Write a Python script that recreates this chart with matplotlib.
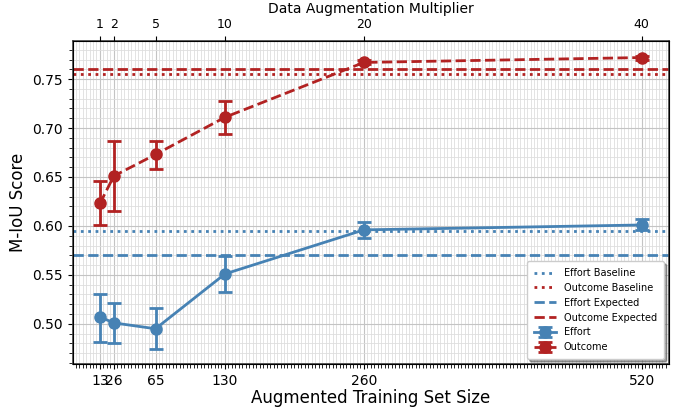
import numpy as np
import matplotlib
matplotlib.use("Agg")
import matplotlib.pyplot as plt
from matplotlib.ticker import AutoMinorLocator

# training set sizes and multipliers
sizes = [13, 26, 65, 130, 260, 520]
multipliers = [1, 2, 5, 10, 20, 40]

# effort scores
effort_mean = [0.507, 0.501, 0.495, 0.551, 0.596, 0.601]
effort_lo = [0.481, 0.480, 0.474, 0.533, 0.588, 0.596]
effort_hi = [0.531, 0.521, 0.516, 0.569, 0.604, 0.607]

# outcome scores
outcome_mean = [0.623, 0.651, 0.673, 0.711, 0.767, 0.772]
outcome_lo = [0.601, 0.615, 0.658, 0.694, 0.765, 0.770]
outcome_hi = [0.646, 0.687, 0.687, 0.728, 0.769, 0.774]

effort_baseline = 0.595
outcome_baseline = 0.755
effort_expected = 0.570
outcome_expected = 0.760

c_eff = "#4682B4"
c_out = "#B22222"

fig, ax = plt.subplots(figsize=(6.81, 4.09), dpi=100)
fig.subplots_adjust(left=0.107, right=0.982, top=0.9, bottom=0.11)

ax.axhline(effort_baseline, color=c_eff, ls=":", lw=2, label="Effort Baseline")
ax.axhline(outcome_baseline, color=c_out, ls=":", lw=2, label="Outcome Baseline")
ax.axhline(effort_expected, color=c_eff, ls="--", lw=2, label="Effort Expected")
ax.axhline(outcome_expected, color=c_out, ls="--", lw=2, label="Outcome Expected")

x = np.array(sizes)
em = np.array(effort_mean)
om = np.array(outcome_mean)
e_err = [em - np.array(effort_lo), np.array(effort_hi) - em]
o_err = [om - np.array(outcome_lo), np.array(outcome_hi) - om]

ax.errorbar(x, em, yerr=e_err, color=c_eff, marker="o", ms=8, lw=2, ls="-",
            capsize=5, capthick=2, elinewidth=2, label="Effort")
ax.errorbar(x, om, yerr=o_err, color=c_out, marker="o", ms=8, lw=2, ls="--",
            capsize=5, capthick=2, elinewidth=2, label="Outcome")

ax.set_xticks(sizes)
ax.set_xticklabels([str(s) for s in sizes], fontsize=10)
ax.xaxis.set_minor_locator(AutoMinorLocator())
ax.yaxis.set_minor_locator(AutoMinorLocator())
ax.tick_params(axis="y", labelsize=10)
ax.tick_params(which="minor", length=3)
ax.grid(which="major", color="#c4c4c4", lw=0.8)
ax.grid(which="minor", color="#dedede", lw=0.6)
ax.set_axisbelow(True)
for s in ax.spines.values():
    s.set_color("#444444")
    s.set_linewidth(1.2)

ax.set_xlabel("Augmented Training Set Size", fontsize=12, labelpad=1)
ax.set_ylabel("M-IoU Score", fontsize=12)

top = ax.twiny()
top.set_xlim(ax.get_xlim())
top.set_xticks(sizes)
top.set_xticklabels([str(m) for m in multipliers], fontsize=9)
top.set_xlabel("Data Augmentation Multiplier", fontsize=10)

ax.legend(loc="lower right", fontsize=7, shadow=True, fancybox=True, framealpha=1,
          borderpad=0.7, handlelength=2.3)

fig.savefig("out.png", dpi=100)
